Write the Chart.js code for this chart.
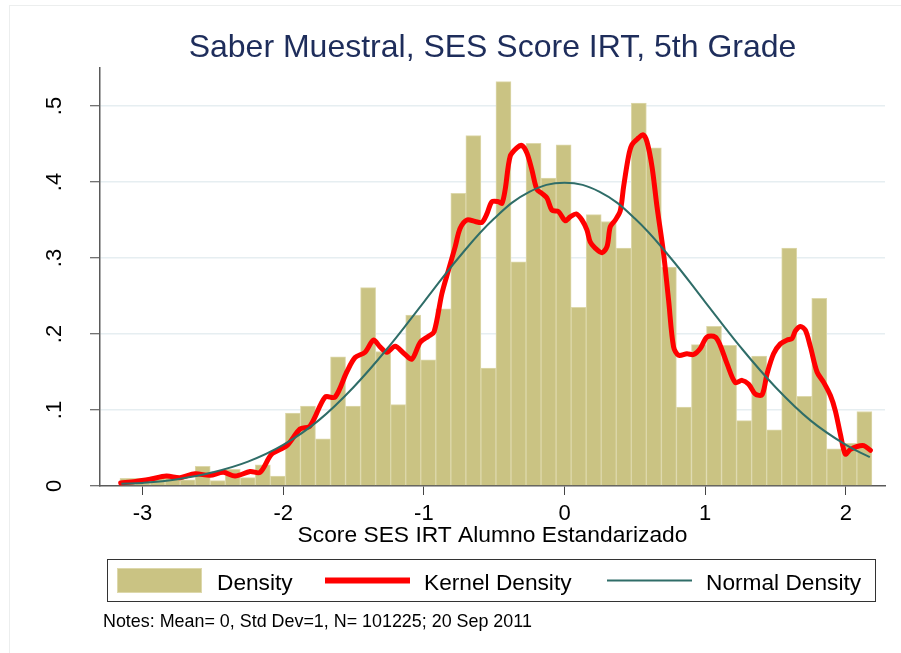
<!DOCTYPE html>
<html>
<head>
<meta charset="utf-8">
<script src="https://cdn.jsdelivr.net/npm/chart.js@4.4.1/dist/chart.umd.min.js"></script>
<style>
  html, body { margin: 0; padding: 0; background: #fff; }
  #wrap { position: relative; width: 901px; height: 653px; overflow: hidden; }
  #frame { position: absolute; left: 9px; top: 5px; width: 1000px; height: 1000px;
           border-left: 1px solid #eceeee; border-top: 1px solid #eceeee; }
  canvas { position: absolute; left: 0; top: 0; }
</style>
</head>
<body>
<div id="wrap">
  <div id="frame"></div>
  <canvas id="c" width="901" height="653"></canvas>
</div>
<script>
/* Stata-style histogram with kernel and normal density overlays */
const FONT = "'Liberation Sans', Arial, Helvetica, sans-serif";

const TITLE = "Saber Muestral, SES Score IRT, 5th Grade";
const X_TITLE = "Score SES IRT Alumno Estandarizado";
const NOTES = "Notes: Mean= 0, Std Dev=1, N= 101225; 20 Sep 2011";

// histogram bins
const BIN_START = -3.160;
const BIN_WIDTH = 0.1069;
const histDensity = [
  0.010, 0.010, 0.012, 0.013, 0.008, 0.026, 0.007, 0.022, 0.011, 0.028,
  0.013, 0.096, 0.105, 0.062, 0.170, 0.105, 0.261, 0.177, 0.107, 0.225,
  0.166, 0.233, 0.385, 0.461, 0.155, 0.532, 0.295, 0.451, 0.405, 0.449,
  0.235, 0.357, 0.348, 0.313, 0.504, 0.445, 0.288, 0.104, 0.186, 0.210,
  0.185, 0.086, 0.171, 0.074, 0.313, 0.118, 0.247, 0.049, 0.056, 0.098,
];

// kernel density curve
const kdeX = [
  -3.155, -3.05, -2.946, -2.83, -2.733, -2.627, -2.52, -2.425, -2.342, -2.235,
  -2.164, -2.081, -1.974, -1.88, -1.809, -1.702, -1.631, -1.548, -1.489, -1.418,
  -1.358, -1.311, -1.263, -1.204, -1.145, -1.085, -1.026, -0.967, -0.927, -0.872,
  -0.825, -0.777, -0.742, -0.694, -0.635, -0.587, -0.552, -0.516, -0.469, -0.445,
  -0.422, -0.386, -0.339, -0.303, -0.267, -0.232, -0.196, -0.161, -0.125, -0.090,
  -0.043, 0.005, 0.040, 0.083, 0.124, 0.159, 0.183, 0.218, 0.266, 0.302,
  0.325, 0.361, 0.396, 0.420, 0.455, 0.479, 0.526, 0.558, 0.586, 0.622,
  0.657, 0.704, 0.740, 0.775, 0.811, 0.870, 0.917, 0.965, 1.013, 1.072,
  1.107, 1.155, 1.214, 1.262, 1.309, 1.356, 1.404, 1.440, 1.486, 1.534,
  1.582, 1.617, 1.641, 1.676, 1.712, 1.748, 1.795, 1.843, 1.890, 1.925,
  1.961, 1.996, 2.032, 2.080, 2.127, 2.174,
];
const kdeY = [
  0.004, 0.006, 0.009, 0.013, 0.011, 0.016, 0.014, 0.018, 0.013, 0.019,
  0.018, 0.042, 0.053, 0.075, 0.079, 0.117, 0.117, 0.150, 0.169, 0.176,
  0.192, 0.183, 0.176, 0.184, 0.175, 0.167, 0.189, 0.197, 0.203, 0.253,
  0.284, 0.315, 0.339, 0.350, 0.348, 0.347, 0.358, 0.374, 0.374, 0.372,
  0.390, 0.434, 0.445, 0.448, 0.438, 0.416, 0.390, 0.385, 0.379, 0.363,
  0.361, 0.349, 0.354, 0.358, 0.350, 0.337, 0.321, 0.313, 0.307, 0.315,
  0.341, 0.350, 0.362, 0.394, 0.434, 0.449, 0.458, 0.462, 0.453, 0.420,
  0.368, 0.306, 0.244, 0.183, 0.172, 0.174, 0.173, 0.181, 0.196, 0.196,
  0.185, 0.161, 0.136, 0.139, 0.134, 0.121, 0.120, 0.148, 0.174, 0.187,
  0.192, 0.194, 0.204, 0.210, 0.205, 0.183, 0.150, 0.136, 0.119, 0.099,
  0.068, 0.042, 0.048, 0.052, 0.053, 0.047,
];

// normal density curve
const normX = [-3.15, -3.0, -2.75, -2.5, -2.25, -2.0, -1.75, -1.5, -1.25, -1.0, -0.75, -0.5, -0.25,
  0.0, 0.25, 0.5, 0.75, 1.0, 1.25, 1.5, 1.75, 2.0, 2.17];
const normY = [0.003, 0.004, 0.009, 0.018, 0.032, 0.054, 0.086, 0.130, 0.183, 0.242, 0.301, 0.352, 0.387,
  0.399, 0.387, 0.352, 0.301, 0.242, 0.183, 0.130, 0.086, 0.054, 0.038];

const xTicks = [-3, -2, -1, 0, 1, 2];
const yTicks = [0, 0.1, 0.2, 0.3, 0.4, 0.5];
const yTickLabels = ["0", ".1", ".2", ".3", ".4", ".5"];

const BAR_FILL = "#cac383";
const BAR_EDGE = "#ddd8ab";
const KDE_COLOR = "#ff0000";
const NORM_COLOR = "#2f6d68";

const histPoints = histDensity.map((v, i) => ({ x: BIN_START + (i + 0.5) * BIN_WIDTH, y: v }));
const kdePoints = kdeX.map((x, i) => ({ x, y: kdeY[i] }));
const normPoints = normX.map((x, i) => ({ x, y: normY[i] }));

// title centred over the plot region, rotated y tick labels (Stata style)
const stataText = {
  id: "stataText",
  afterDraw(chart) {
    const { ctx, chartArea } = chart;
    const ys = chart.scales.y;
    ctx.save();
    ctx.fillStyle = "#1e2d5b";
    ctx.font = "32px " + FONT;
    ctx.textAlign = "center";
    ctx.textBaseline = "alphabetic";
    ctx.fillText(TITLE, (chartArea.left + chartArea.right) / 2, 57);

    ctx.fillStyle = "#000";
    ctx.font = "22px " + FONT;
    ctx.textBaseline = "middle";
    yTicks.forEach((v, i) => {
      ctx.save();
      ctx.translate(55, ys.getPixelForValue(v));
      ctx.rotate(-Math.PI / 2);
      ctx.fillText(yTickLabels[i], 0, 0);
      ctx.restore();
    });
    ctx.restore();
  },
};

// boxed legend + notes below the axis title
const boxLegend = {
  id: "boxLegend",
  afterDraw(chart) {
    const { ctx } = chart;
    const ds = chart.data.datasets;
    ctx.save();
    ctx.strokeStyle = "#333";
    ctx.lineWidth = 1;
    ctx.strokeRect(107.5, 559.5, 768, 42);

    ctx.fillStyle = BAR_FILL;
    ctx.fillRect(117, 568, 85, 25);
    ctx.strokeStyle = BAR_EDGE;
    ctx.strokeRect(117.5, 568.5, 84, 24);

    ctx.lineCap = "butt";
    ctx.strokeStyle = KDE_COLOR;
    ctx.lineWidth = 6;
    ctx.beginPath(); ctx.moveTo(325, 580.5); ctx.lineTo(410, 580.5); ctx.stroke();
    ctx.strokeStyle = NORM_COLOR;
    ctx.lineWidth = 2;
    ctx.beginPath(); ctx.moveTo(607, 580.5); ctx.lineTo(692, 580.5); ctx.stroke();

    ctx.fillStyle = "#000";
    ctx.font = "22.7px " + FONT;
    ctx.textBaseline = "alphabetic";
    ctx.fillText(ds[0].label, 217, 590);
    ctx.fillText(ds[1].label, 424, 590);
    ctx.fillText(ds[2].label, 706, 590);

    ctx.font = "17.9px " + FONT;
    ctx.fillText(NOTES, 103, 627);
    ctx.restore();
  },
};

new Chart(document.getElementById("c"), {
  type: "bar",
  data: {
    datasets: [
      { label: "Density", data: histPoints, backgroundColor: BAR_FILL, borderColor: BAR_EDGE,
        borderWidth: 1, barPercentage: 1, categoryPercentage: 1, order: 3 },
      { type: "line", label: "Kernel Density", data: kdePoints, borderColor: KDE_COLOR,
        borderWidth: 5, pointRadius: 0, tension: 0.3, fill: false,
        borderJoinStyle: "round", borderCapStyle: "round", order: 2 },
      { type: "line", label: "Normal Density", data: normPoints, borderColor: NORM_COLOR,
        borderWidth: 2, pointRadius: 0, tension: 0.4, fill: false, order: 1 },
    ],
  },
  options: {
    responsive: false,
    animation: false,
    devicePixelRatio: 1,
    layout: { padding: { left: 0, right: 16, top: 68, bottom: 103 } },
    plugins: {
      legend: { display: false },
      tooltip: { enabled: false },
      title: { display: false },
    },
    scales: {
      x: {
        type: "linear", min: -3.302, max: 2.278, offset: false,
        afterBuildTicks: (s) => { s.ticks = xTicks.map((v) => ({ value: v })); },
        afterFit: (s) => { s.height = 64; },
        ticks: { color: "#000", font: { family: FONT, size: 22 }, padding: 6,
                 maxRotation: 0, autoSkip: false, callback: (v) => String(v) },
        grid: { drawOnChartArea: false, offset: false, tickLength: 9, tickColor: "#444", tickWidth: 1 },
        border: { color: "#5a5a5a", width: 1.5 },
        title: { display: true, text: X_TITLE, color: "#000",
                 font: { family: FONT, size: 22.8 }, padding: { top: 0, bottom: 1 } },
      },
      y: {
        min: 0, max: 0.55,
        afterBuildTicks: (s) => { s.ticks = yTicks.map((v) => ({ value: v })); },
        afterFit: (s) => { s.width = 100; },
        ticks: { display: false },
        grid: {
          color: (c) => (c.tick && c.tick.value === 0 ? "rgba(0,0,0,0)" : "#e6eef1"),
          lineWidth: 1.5, tickLength: 10, tickColor: "#444", tickWidth: 1,
        },
        border: { color: "#5a5a5a", width: 1.5 },
      },
    },
  },
  plugins: [stataText, boxLegend],
});
</script>
</body>
</html>
